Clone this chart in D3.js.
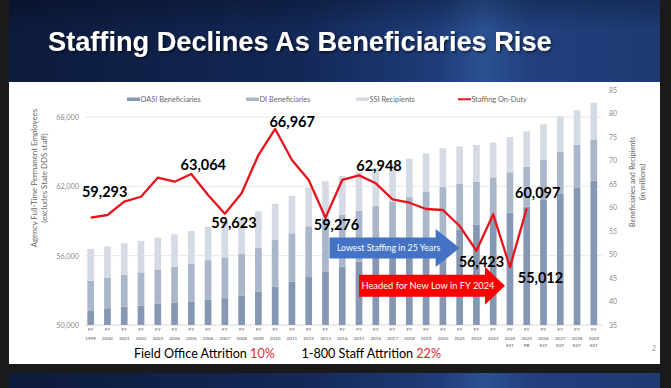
<!DOCTYPE html>
<html><head><meta charset="utf-8">
<script src="https://cdn.jsdelivr.net/npm/d3@7"></script>
<style>html,body{margin:0;padding:0;background:#1a1a1a;overflow:hidden}svg{display:block}</style>
</head><body><svg id="c" width="671" height="388"></svg>
<script>
// ---------- DATA ----------
const years = ["1999","2000","2001","2002","2003","2004","2005","2006","2007","2008","2009","2010","2011","2012","2013","2014","2015","2016","2017","2018","2019","2020","2021","2022","2023","2024","2025","2026","2027","2028","2029"];
const yearSuffix = ["","","","","","","","","","","","","","","","","","","","","","","","","","EST","PB","EST","EST","EST","EST"];
// millions
const oasi = [38.0,38.4,38.9,39.1,39.5,39.7,40.0,40.4,40.7,41.2,42.1,43.2,44.2,45.2,46.3,47.4,48.5,49.6,50.7,51.8,52.9,54.0,55.2,56.3,57.7,58.9,60.2,61.6,62.9,64.3,65.7];
const di   = [6.4,6.6,6.8,7.1,7.2,7.7,8.0,8.4,8.7,9.0,9.4,9.9,10.3,10.8,11.4,11.0,10.8,10.7,10.5,10.4,10.4,10.4,9.9,9.2,8.7,8.6,8.5,8.5,8.9,9.0,8.8];
const ssi  = [6.8,6.7,6.7,6.7,6.9,6.9,7.0,7.1,7.5,7.7,7.7,7.7,8.0,8.2,7.9,8.3,8.2,8.1,8.0,8.2,8.2,8.2,7.9,7.8,7.4,7.5,7.5,7.6,7.6,7.4,7.8];
// staffing on-duty, FY1999 - FY2025
const staffing = [59293,59520,60670,61100,62750,62400,63064,61250,59623,61400,64710,66967,64280,62550,59276,62550,62948,62260,60870,60580,60040,59950,58570,56423,59580,55012,60097];
const labelledYears = ["1999","2005","2007","2010","2013","2015","2022","2024","2025"];
const leftTicks = [50000,56000,62000,68000];
const rightTicks = [35,40,45,50,55,60,65,70,75,80,85];
const legendLabels = ["OASI Beneficiaries","DI Beneficiaries","SSI Recipients","Staffing On-Duty"];
const titleText = "Staffing Declines As Beneficiaries Rise";
const leftTitle = ["Agency Full-Time Permanent Employees","(excludes State DDS staff)"];
const rightTitle = ["Beneficiaries and Recipients","(in millions)"];
const arrowTexts = ["Lowest Staffing in 25 Years","Headed for New Low in FY 2024"];

// ---------- SETUP ----------
const FONT = "Lato, 'Open Sans', sans-serif";
const W = 671, H = 388;
const svg = d3.select("#c");
const defs = svg.append("defs");
const band = defs.append("linearGradient").attr("id","band").attr("x1",0).attr("x2",1).attr("y1",0).attr("y2",0);
[[0,"#0c1a3b"],[0.45,"#132857"],[0.66,"#1f3d7a"],[0.73,"#2c5193"],[0.8,"#21407d"],[1,"#1d3a73"]]
  .forEach(([o,c]) => band.append("stop").attr("offset",o).attr("stop-color",c));
const shade = defs.append("linearGradient").attr("id","shade").attr("x1",0).attr("x2",0).attr("y1",0).attr("y2",1);
shade.append("stop").attr("offset",0).attr("stop-color","#000").attr("stop-opacity",0.25);
shade.append("stop").attr("offset",1).attr("stop-color","#000").attr("stop-opacity",0);
const sh = defs.append("filter").attr("id","tshadow").attr("x","-5%").attr("y","-20%").attr("width","110%").attr("height","150%");
sh.append("feDropShadow").attr("dx",1.5).attr("dy",1.5).attr("stdDeviation",1).attr("flood-color","#000").attr("flood-opacity",0.6);
defs.append("clipPath").attr("id","plot").append("rect").attr("x",80).attr("y",80).attr("width",530).attr("height",245);

svg.append("rect").attr("width",W).attr("height",H).attr("fill","#1a1a1a");
svg.append("rect").attr("x",9).attr("y",0).attr("width",651).attr("height",82).attr("fill","url(#band)");
svg.append("rect").attr("x",9).attr("y",0).attr("width",651).attr("height",30).attr("fill","url(#shade)");
svg.append("rect").attr("x",9).attr("y",373).attr("width",651).attr("height",15).attr("fill","url(#band)");
svg.append("rect").attr("x",9).attr("y",82).attr("width",651).attr("height",282).attr("fill","#ffffff");

svg.append("text").attr("x",48).attr("y",51)
  .attr("font-family","'Liberation Sans', Arial, sans-serif").attr("font-weight","bold")
  .attr("font-size",27.2).attr("fill","#ffffff").attr("filter","url(#tshadow)").text(titleText);

// ---------- SCALES ----------
const x = d3.scaleBand().domain(years).range([82.3, 602.2]).paddingInner(0.6).paddingOuter(0.3);
const xc = d => x(d) + x.bandwidth()/2;
const yL = d3.scaleLinear().domain([50000,68000]).range([325,117]);
const yR = d3.scaleLinear().domain([35,85]).range([325,90]);

// gridlines
svg.append("g").selectAll("line").data(leftTicks).join("line")
  .attr("x1",85).attr("x2",602).attr("y1",d=>yL(d)).attr("y2",d=>yL(d))
  .attr("stroke",d => d===50000 ? "#d9d9d9" : "#e8e8e8").attr("stroke-width",1);

// ---------- BARS ----------
const table = years.map((y,i) => ({year:y, oasi:oasi[i], di:di[i], ssi:ssi[i]}));
const keys = ["oasi","di","ssi"];
const colors = {oasi:"#8597b2", di:"#aab6c9", ssi:"#d5dbe5"};
const stacked = d3.stack().keys(keys)(table);
const gBars = svg.append("g").attr("clip-path","url(#plot)");
gBars.selectAll("g").data(stacked).join("g").attr("fill",d=>colors[d.key])
  .selectAll("rect").data(d=>d).join("rect")
  .attr("x",d=>x(d.data.year)).attr("width",x.bandwidth())
  .attr("y",d=>yR(d[1])).attr("height",d=>Math.max(0,yR(d[0])-yR(d[1])));

// ---------- ARROWS ----------
const arrows = [
  {from:"2013", fromDx:4, to:"2021", toDx:0, yv:56660, body:21, head:38, hl:24, fill:"#4472c4", text:arrowTexts[0], fs:8.8},
  {from:"2015", fromDx:0, to:"2024", toDx:-5, yv:53390, body:22, head:38, hl:20, fill:"#ff0000", text:arrowTexts[1], fs:9.3}
];
arrows.forEach(a => {
  const x0 = xc(a.from)+a.fromDx, x1 = xc(a.to)+a.toDx, cy = yL(a.yv);
  const hb = x1 - a.hl;
  const p = d3.path();
  p.moveTo(x0, cy-a.body/2); p.lineTo(hb, cy-a.body/2); p.lineTo(hb, cy-a.head/2);
  p.lineTo(x1, cy); p.lineTo(hb, cy+a.head/2); p.lineTo(hb, cy+a.body/2); p.lineTo(x0, cy+a.body/2); p.closePath();
  svg.append("path").attr("d",p.toString()).attr("fill",a.fill);
  svg.append("text").attr("x",(x0+hb)/2 + 6).attr("y",cy+3.2).attr("text-anchor","middle")
    .attr("font-family",FONT).attr("font-size",a.fs).attr("fill","#fff").text(a.text);
});

// ---------- LINE ----------
const staffData = staffing.map((v,i) => ({year:years[i], v}));
svg.append("path").datum(staffData)
  .attr("d", d3.line().x(d=>xc(d.year)).y(d=>yL(d.v)))
  .attr("fill","none").attr("stroke","#e8141c").attr("stroke-width",2.3).attr("stroke-linejoin","round");

// data labels (offsets relative to point)
const labelOffsets = {"1999":[14,-20.5],"2005":[12,-4],"2007":[9,14],"2010":[17,-2],"2013":[11,12.5],"2015":[20,-4],"2022":[5,16],"2024":[30.5,15.6],"2025":[11,-10]};
svg.append("g").selectAll("text").data(staffData.filter(d=>labelledYears.includes(d.year))).join("text")
  .attr("x",d=>xc(d.year)+labelOffsets[d.year][0]).attr("y",d=>yL(d.v)+labelOffsets[d.year][1])
  .attr("text-anchor","middle").attr("font-family",FONT).attr("font-weight",700).attr("font-size",14.5)
  .attr("fill","#000").text(d=>d3.format(",")(d.v));

// ---------- AXES ----------
const axL = svg.append("g").attr("transform","translate(79,0)")
  .call(d3.axisLeft(yL).tickValues(leftTicks).tickSize(0).tickPadding(0).tickFormat(d3.format(",")));
axL.select(".domain").remove();
axL.selectAll("text").attr("font-family",FONT).attr("font-size",7.3).attr("fill","#8a8a8a");

const axR = svg.append("g").attr("transform","translate(608,0)")
  .call(d3.axisRight(yR).tickValues(rightTicks).tickSize(0).tickPadding(1));
axR.select(".domain").remove();
axR.selectAll("text").attr("font-family",FONT).attr("font-size",7).attr("fill","#8a8a8a");

// x labels
const gx = svg.append("g");
years.forEach((y,i) => {
  const t = gx.append("text").attr("text-anchor","middle").attr("font-family",FONT).attr("font-size",4.6).attr("fill","#555");
  t.append("tspan").attr("x",xc(y)).attr("y",331).text("FY");
  t.append("tspan").attr("x",xc(y)).attr("y",339.5).text(y);
  if (yearSuffix[i]) t.append("tspan").attr("x",xc(y)).attr("y",347).text(yearSuffix[i]);
});

// axis titles
const lt = svg.append("text").attr("transform","translate(37,178) rotate(-90)").attr("text-anchor","middle")
  .attr("font-family",FONT).attr("font-size",7.9).attr("fill","#666");
lt.append("tspan").attr("x",0).attr("y",0).text(leftTitle[0]);
lt.append("tspan").attr("x",0).attr("y",9.5).text(leftTitle[1]);
const rt = svg.append("text").attr("transform","translate(635,182) rotate(-90)").attr("text-anchor","middle")
  .attr("font-family",FONT).attr("font-size",7.4).attr("fill","#666");
rt.append("tspan").attr("x",0).attr("y",0).text(rightTitle[0]);
rt.append("tspan").attr("x",0).attr("y",10).text(rightTitle[1]);

// ---------- LEGEND ----------
const legendX = [127,246,356,458];
const legendCols = [colors.oasi, colors.di, colors.ssi, "#e8141c"];
legendLabels.forEach((lab,i) => {
  if (i < 3) svg.append("rect").attr("x",legendX[i]).attr("y",97.5).attr("width",13).attr("height",3.5).attr("fill",legendCols[i]);
  else svg.append("line").attr("x1",legendX[i]).attr("x2",legendX[i]+13).attr("y1",99.3).attr("y2",99.3).attr("stroke",legendCols[i]).attr("stroke-width",2);
  svg.append("text").attr("x",legendX[i]+13.5).attr("y",102).attr("font-family",FONT).attr("font-size",7.4).attr("fill","#666").text(lab);
});

// ---------- FOOTER ----------
const f1 = svg.append("text").attr("x",134).attr("y",357.5).attr("font-family",FONT).attr("font-size",12.6).attr("fill","#000");
f1.append("tspan").text("Field Office Attrition ");
f1.append("tspan").attr("fill","#e0282e").text("10%");
const f2 = svg.append("text").attr("x",301.5).attr("y",357.5).attr("font-family",FONT).attr("font-size",12.6).attr("fill","#000");
f2.append("tspan").text("1-800 Staff Attrition ");
f2.append("tspan").attr("fill","#e0282e").text("22%");
svg.append("text").attr("x",652).attr("y",351).attr("font-family",FONT).attr("font-size",7).attr("fill","#9a9a9a").text("2");
</script></body></html>
